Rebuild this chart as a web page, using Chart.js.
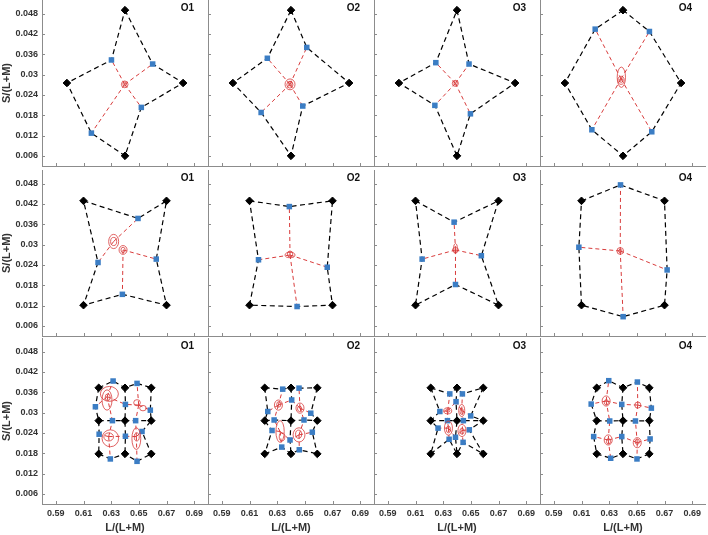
<!DOCTYPE html>
<html>
<head>
<meta charset="utf-8">
<script src="https://cdn.jsdelivr.net/npm/chart.js@4/dist/chart.umd.min.js"></script>
<style>
  html, body { margin: 0; padding: 0; background: #fff; }
  #wrap { position: relative; width: 708px; height: 535px; overflow: hidden; }
  #wrap canvas { position: absolute; }
</style>
</head>
<body>
<div id="wrap"></div>
<script>
// axes
var xTicks = [0.59, 0.61, 0.63, 0.65, 0.67, 0.69];
var yTicks = [0.006, 0.012, 0.018, 0.024, 0.03, 0.036, 0.042, 0.048];
var xRange = [0.58, 0.70];
var yRange = [0.003, 0.052];
var observers = ["O1", "O2", "O3", "O4"];

// row 1 : targets top, right, bottom, left ; matches UR, LR, LL, UL
var row1Targets = [[0.64, 0.049], [0.682, 0.0275], [0.64, 0.006], [0.598, 0.0275]];
var row1Matches = [
  [[0.6600, 0.0331], [0.6518, 0.0203], [0.6157, 0.0127], [0.6302, 0.0343]],
  [[0.6514, 0.0380], [0.6485, 0.0207], [0.6184, 0.0188], [0.6229, 0.0348]],
  [[0.6487, 0.0331], [0.6497, 0.0184], [0.6240, 0.0209], [0.6247, 0.0335]],
  [[0.6591, 0.0427], [0.6608, 0.0131], [0.6175, 0.0137], [0.6199, 0.0434]]
];
var row1Neutral = [
  [[0.6398, 0.0271]], [[0.6393, 0.0271]], [[0.6388, 0.0274]], [[0.6386, 0.0287]]
];
// ellipses: cx, cy, rx, ry
var row1Ellipses = [
  [[0.6398, 0.0271, 0.0024, 0.0010], [0.6398, 0.0272, 0.0013, 0.0006]],
  [[0.6393, 0.0271, 0.0036, 0.0016], [0.6392, 0.0270, 0.0022, 0.0010], [0.6395, 0.0273, 0.0012, 0.0007]],
  [[0.6388, 0.0274, 0.0022, 0.0009], [0.6390, 0.0275, 0.0012, 0.0006]],
  [[0.6388, 0.0292, 0.0030, 0.0030], [0.6386, 0.0283, 0.0022, 0.0012], [0.6387, 0.0283, 0.0012, 0.0006]]
];
var row1Chains = [["t0", "m0", "t1", "m1", "t2", "m2", "t3", "m3", "t0"]];
var row1Spokes = [
  [[0, 0], [0, 1], [0, 2], [0, 3]], [[0, 0], [0, 1], [0, 2], [0, 3]],
  [[0, 0], [0, 1], [0, 2], [0, 3]], [[0, 0], [0, 1], [0, 2], [0, 3]]
];

// row 2 : targets UL, UR, LR, LL ; matches top, right, bottom, left
var row2Targets = [[0.61, 0.0429], [0.67, 0.0429], [0.67, 0.0121], [0.61, 0.0121]];
var row2Matches = [
  [[0.6494, 0.0377], [0.6626, 0.0257], [0.6381, 0.0153], [0.6205, 0.0247]],
  [[0.6388, 0.0412], [0.6662, 0.0233], [0.6444, 0.0117], [0.6165, 0.0255]],
  [[0.6379, 0.0366], [0.6576, 0.0267], [0.6389, 0.0182], [0.6148, 0.0257]],
  [[0.6382, 0.0476], [0.6719, 0.0225], [0.6401, 0.0087], [0.6081, 0.0292]]
];
var row2Neutral = [
  [[0.6318, 0.0309], [0.6386, 0.0284]], [[0.6393, 0.0269]], [[0.6389, 0.0284]], [[0.6380, 0.0281]]
];
var row2Ellipses = [
  [[0.6318, 0.0309, 0.0036, 0.0021], [0.6318, 0.0309, 0.0022, 0.0012], [0.6386, 0.0284, 0.0029, 0.0013], [0.6386, 0.0284, 0.0015, 0.0008]],
  [[0.6393, 0.0269, 0.0036, 0.0008], [0.6393, 0.0272, 0.0020, 0.0009]],
  [[0.6389, 0.0288, 0.0014, 0.0015], [0.6389, 0.0284, 0.0022, 0.0007]],
  [[0.6380, 0.0281, 0.0024, 0.0010], [0.6380, 0.0281, 0.0012, 0.0005]]
];
var row2Chains = [["t0", "m0", "t1", "m1", "t2", "m2", "t3", "m3", "t0"]];
var row2Spokes = [
  [[0, 0], [1, 1], [1, 2], [0, 3]], [[0, 0], [0, 1], [0, 2], [0, 3]],
  [[0, 0], [0, 1], [0, 2], [0, 3]], [[0, 0], [0, 1], [0, 2], [0, 3]]
];

// row 3 : 3x3 grid of targets, one match on every grid edge
var row3Targets = [
  [0.621, 0.0373], [0.64, 0.0373], [0.659, 0.0373],
  [0.621, 0.0276], [0.64, 0.0276], [0.659, 0.0276],
  [0.621, 0.0178], [0.64, 0.0178], [0.659, 0.0178]
];
var row3Matches = [
  [[0.6314, 0.0393], [0.6487, 0.0386], [0.6186, 0.0317], [0.6403, 0.0324], [0.6583, 0.0307], [0.6309, 0.0276],
   [0.6477, 0.0276], [0.6213, 0.0236], [0.6403, 0.0230], [0.6523, 0.0244], [0.6294, 0.0163], [0.6487, 0.0156]],
  [[0.6340, 0.0369], [0.6458, 0.0372], [0.6232, 0.0303], [0.6405, 0.0337], [0.6543, 0.0298], [0.6278, 0.0278],
   [0.6494, 0.0278], [0.6263, 0.0247], [0.6393, 0.0219], [0.6554, 0.0242], [0.6333, 0.0198], [0.6460, 0.0190]],
  [[0.6348, 0.0355], [0.6439, 0.0355], [0.6276, 0.0303], [0.6393, 0.0332], [0.6499, 0.0290], [0.6331, 0.0276],
   [0.6446, 0.0276], [0.6263, 0.0254], [0.6389, 0.0227], [0.6489, 0.0249], [0.6343, 0.0221], [0.6444, 0.0212]],
  [[0.6297, 0.0394], [0.6504, 0.0390], [0.6170, 0.0325], [0.6391, 0.0324], [0.6605, 0.0313], [0.6304, 0.0275],
   [0.6490, 0.0275], [0.6188, 0.0229], [0.6391, 0.0229], [0.6596, 0.0222], [0.6311, 0.0165], [0.6501, 0.0163]]
];
var row3Neutral = [
  [[0.6271, 0.0347], [0.6499, 0.0322], [0.6282, 0.0229], [0.6482, 0.0229]],
  [[0.6309, 0.0322], [0.6465, 0.0313], [0.6321, 0.0244], [0.6458, 0.0234]],
  [[0.6333, 0.0305], [0.6434, 0.0306], [0.6338, 0.0254], [0.6436, 0.0247]],
  [[0.6278, 0.0334], [0.6507, 0.0322], [0.6293, 0.0219], [0.6503, 0.0211]]
];
var row3Ellipses = [
  [[0.6287, 0.0355, 0.0065, 0.0022], [0.6270, 0.0337, 0.0036, 0.0030], [0.6275, 0.0345, 0.0018, 0.0010],
   [0.6487, 0.0329, 0.0024, 0.0009], [0.6530, 0.0313, 0.0024, 0.0008], [0.6294, 0.0224, 0.0060, 0.0025],
   [0.6282, 0.0228, 0.0035, 0.0012], [0.6482, 0.0223, 0.0032, 0.0032], [0.6485, 0.0228, 0.0018, 0.0012]],
  [[0.6309, 0.0322, 0.0029, 0.0015], [0.6312, 0.0324, 0.0015, 0.0008], [0.6465, 0.0313, 0.0029, 0.0015],
   [0.6462, 0.0311, 0.0015, 0.0008], [0.6321, 0.0244, 0.0030, 0.0032], [0.6335, 0.0228, 0.0020, 0.0012],
   [0.6458, 0.0234, 0.0043, 0.0021], [0.6455, 0.0236, 0.0022, 0.0012]],
  [[0.6333, 0.0305, 0.0029, 0.0009], [0.6334, 0.0306, 0.0015, 0.0005], [0.6434, 0.0306, 0.0022, 0.0018],
   [0.6434, 0.0303, 0.0012, 0.0009], [0.6338, 0.0254, 0.0029, 0.0021], [0.6338, 0.0250, 0.0015, 0.0010],
   [0.6436, 0.0247, 0.0029, 0.0018], [0.6436, 0.0245, 0.0015, 0.0009]],
  [[0.6278, 0.0334, 0.0029, 0.0015], [0.6280, 0.0330, 0.0015, 0.0008], [0.6507, 0.0322, 0.0022, 0.0009],
   [0.6293, 0.0219, 0.0029, 0.0015], [0.6295, 0.0215, 0.0015, 0.0008], [0.6503, 0.0211, 0.0029, 0.0015],
   [0.6503, 0.0214, 0.0015, 0.0008]]
];
var row3Chains = [
  ["t0", "m0", "t1", "m1", "t2"], ["t3", "m5", "t4", "m6", "t5"], ["t6", "m10", "t7", "m11", "t8"],
  ["t0", "m2", "t3", "m7", "t6"], ["t1", "m3", "t4", "m8", "t7"], ["t2", "m4", "t5", "m9", "t8"]
];
var row3SpokeSet = [[0, 0], [0, 2], [0, 3], [0, 5], [1, 1], [1, 3], [1, 4], [1, 6],
                    [2, 5], [2, 7], [2, 8], [2, 10], [3, 6], [3, 8], [3, 9], [3, 11]];
var row3Spokes = [row3SpokeSet, row3SpokeSet, row3SpokeSet, row3SpokeSet];

var rows = [
  {targets: row1Targets, matches: row1Matches, neutral: row1Neutral, ellipses: row1Ellipses, chains: row1Chains, spokes: row1Spokes},
  {targets: row2Targets, matches: row2Matches, neutral: row2Neutral, ellipses: row2Ellipses, chains: row2Chains, spokes: row2Spokes},
  {targets: row3Targets, matches: row3Matches, neutral: row3Neutral, ellipses: row3Ellipses, chains: row3Chains, spokes: row3Spokes}
];

// layout of the 3x4 grid (pixels)
var rowTop = [0, 170, 338];
var colLeft = [42, 208, 374, 540];
var plotW = 166, plotH = 166;

var axisGray = "#8c8c8c";
var textColor = "#333333";
var redColor = "#d83b3b";
var blueColor = "#3b7dc4";
var fontFamily = "'Liberation Sans', Arial, Helvetica, sans-serif";

function toPoint(p) {
  return {x: p[0], y: p[1]};
}

function resolveToken(token, targets, matches) {
  var idx = parseInt(token.slice(1), 10);
  return toPoint(token[0] === "t" ? targets[idx] : matches[idx]);
}

// keep the plot area exactly plotW x plotH, whatever the labels need
function noScalePadding(s) {
  s.paddingTop = 0;
  s.paddingBottom = 0;
  s.paddingLeft = 0;
  s.paddingRight = 0;
}

// red ellipses, inward tick marks and the observer label
var panelDecor = {
  id: "panelDecor",
  afterDatasetsDraw: function(chart, args, opts) {
    var ctx = chart.ctx;
    var xs = chart.scales.x, ys = chart.scales.y;
    var list = rows[opts.row].ellipses[opts.col];
    ctx.save();
    ctx.strokeStyle = redColor;
    ctx.lineWidth = 0.8;
    for (var i = 0; i < list.length; i++) {
      var e = list[i];
      var cx = xs.getPixelForValue(e[0]);
      var cy = ys.getPixelForValue(e[1]);
      var rx = Math.abs(xs.getPixelForValue(e[0] + e[2]) - cx);
      var ry = Math.abs(ys.getPixelForValue(e[1] + e[3]) - cy);
      ctx.beginPath();
      ctx.ellipse(cx, cy, rx, ry, 0, 0, 2 * Math.PI);
      ctx.stroke();
    }
    ctx.restore();
  },
  afterDraw: function(chart, args, opts) {
    var ctx = chart.ctx;
    var area = chart.chartArea;
    var xs = chart.scales.x, ys = chart.scales.y;
    ctx.save();
    ctx.strokeStyle = axisGray;
    ctx.lineWidth = 1;
    ctx.beginPath();
    xs.ticks.forEach(function(t) {
      var px = Math.round(xs.getPixelForValue(t.value)) + 0.5;
      ctx.moveTo(px, area.bottom);
      ctx.lineTo(px, area.bottom - 3);
    });
    ys.ticks.forEach(function(t) {
      var py = Math.round(ys.getPixelForValue(t.value)) + 0.5;
      ctx.moveTo(area.left, py);
      ctx.lineTo(area.left + 3, py);
    });
    ctx.stroke();

    ctx.fillStyle = "#111";
    ctx.font = "bold 10px " + fontFamily;
    ctx.textAlign = "right";
    ctx.textBaseline = "middle";
    ctx.fillText(opts.label, area.right - 14, area.top + 8);
    ctx.restore();
  }
};

function buildDatasets(r, c) {
  var row = rows[r];
  var targets = row.targets;
  var matches = row.matches[c];
  var neutral = row.neutral[c];
  var ds = [];

  // first dataset is drawn on top
  ds.push({
    data: matches.map(toPoint),
    pointStyle: "rect",
    pointRadius: 3.9,
    backgroundColor: blueColor,
    borderColor: blueColor,
    borderWidth: 0,
    showLine: false
  });
  ds.push({
    data: targets.map(toPoint),
    pointStyle: "rectRot",
    pointRadius: 3.8,
    backgroundColor: "#000",
    borderColor: "#000",
    borderWidth: 1,
    showLine: false
  });
  row.chains.forEach(function(chain) {
    ds.push({
      data: chain.map(function(tk) { return resolveToken(tk, targets, matches); }),
      showLine: true,
      borderColor: "#000",
      borderWidth: 1.2,
      borderDash: [5, 3.5],
      pointRadius: 0
    });
  });
  row.spokes[c].forEach(function(s) {
    ds.push({
      data: [toPoint(neutral[s[0]]), toPoint(matches[s[1]])],
      showLine: true,
      borderColor: redColor,
      borderWidth: 1,
      borderDash: [4, 3],
      pointRadius: 0
    });
  });
  return ds;
}

var wrap = document.getElementById("wrap");

for (var r = 0; r < 3; r++) {
  for (var c = 0; c < 4; c++) {
    (function(r, c) {
      var firstCol = c === 0;
      var bottomRow = r === 2;
      var yW = firstCol ? 42 : 3;
      var xH = bottomRow ? 31 : 3;
      var w = yW + plotW, h = plotH + xH;

      var canvas = document.createElement("canvas");
      canvas.width = w;
      canvas.height = h;
      canvas.style.width = w + "px";
      canvas.style.height = h + "px";
      canvas.style.left = (colLeft[c] - yW) + "px";
      canvas.style.top = rowTop[r] + "px";
      wrap.appendChild(canvas);

      new Chart(canvas, {
        type: "scatter",
        data: { datasets: buildDatasets(r, c) },
        options: {
          responsive: false,
          animation: false,
          events: [],
          layout: { padding: 0, autoPadding: false },
          plugins: {
            legend: { display: false },
            tooltip: { enabled: false },
            panelDecor: { label: observers[c], row: r, col: c }
          },
          scales: {
            x: {
              type: "linear",
              position: "bottom",
              min: xRange[0],
              max: xRange[1],
              afterBuildTicks: function(s) { s.ticks = xTicks.map(function(v) { return {value: v}; }); },
              afterFit: function(s) { s.height = xH; noScalePadding(s); },
              grid: { display: false, drawTicks: false },
              border: { display: true, color: axisGray, width: 1 },
              ticks: {
                display: bottomRow,
                autoSkip: false,
                maxRotation: 0,
                padding: 4,
                color: textColor,
                font: { family: fontFamily, size: 9, weight: "bold" },
                callback: function(v) { return String(v); }
              },
              title: {
                display: bottomRow,
                text: "L/(L+M)",
                padding: 0,
                color: textColor,
                font: { family: fontFamily, size: 11, weight: "bold" }
              }
            },
            y: {
              type: "linear",
              position: "left",
              min: yRange[0],
              max: yRange[1],
              afterBuildTicks: function(s) { s.ticks = yTicks.map(function(v) { return {value: v}; }); },
              afterFit: function(s) { s.width = yW; noScalePadding(s); },
              grid: { display: false, drawTicks: false },
              border: { display: true, color: axisGray, width: 1 },
              ticks: {
                display: firstCol,
                autoSkip: false,
                padding: 4,
                color: textColor,
                font: { family: fontFamily, size: 9, weight: "bold" },
                callback: function(v) { return String(v); }
              },
              title: {
                display: firstCol,
                text: "S/(L+M)",
                padding: 0,
                color: textColor,
                font: { family: fontFamily, size: 11, weight: "bold" }
              }
            }
          }
        },
        plugins: [panelDecor]
      });
    })(r, c);
  }
}
</script>
</body>
</html>
